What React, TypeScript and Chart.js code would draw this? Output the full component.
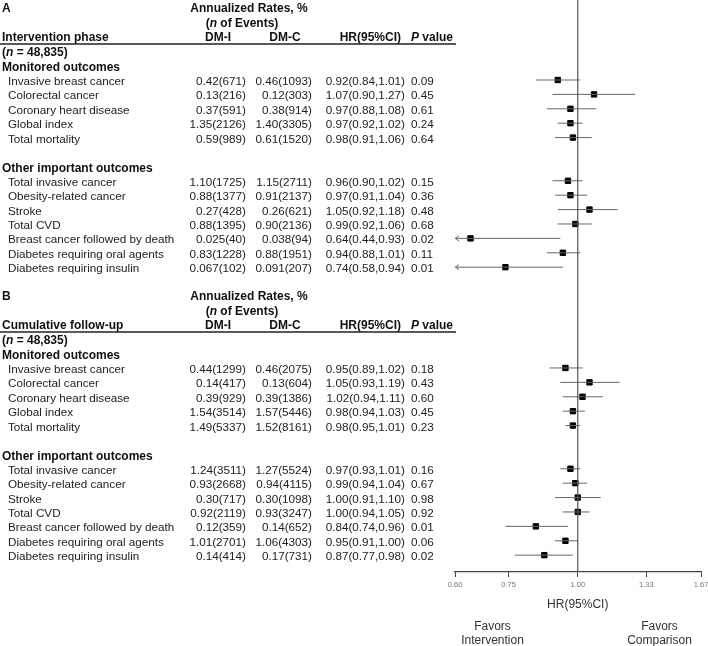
import React, { useEffect, useRef } from "react";
import { Chart, registerables } from "chart.js";

Chart.register(...registerables);

// ---------- data ----------
const outcomeLabels = [
  "Invasive breast cancer",
  "Colorectal cancer",
  "Coronary heart disease",
  "Global index",
  "Total mortality",
  "Total invasive cancer",
  "Obesity-related cancer",
  "Stroke",
  "Total CVD",
  "Breast cancer followed by death",
  "Diabetes requiring oral agents",
  "Diabetes requiring insulin",
];

// Panel A: intervention phase
const rateIA = ["0.42", "0.13", "0.37", "1.35", "0.59", "1.10", "0.88", "0.27", "0.88", "0.025", "0.83", "0.067"];
const eventsIA = [671, 216, 591, 2126, 989, 1725, 1377, 428, 1395, 40, 1228, 102];
const rateCA = ["0.46", "0.12", "0.38", "1.40", "0.61", "1.15", "0.91", "0.26", "0.90", "0.038", "0.88", "0.091"];
const eventsCA = [1093, 303, 914, 3305, 1520, 2711, 2137, 621, 2136, 94, 1951, 207];
const hrA = [0.92, 1.07, 0.97, 0.97, 0.98, 0.96, 0.97, 1.05, 0.99, 0.64, 0.94, 0.74];
const loA = [0.84, 0.9, 0.88, 0.92, 0.91, 0.9, 0.91, 0.92, 0.92, 0.44, 0.88, 0.58];
const hiA = [1.01, 1.27, 1.08, 1.02, 1.06, 1.02, 1.04, 1.18, 1.06, 0.93, 1.01, 0.94];
const pA = ["0.09", "0.45", "0.61", "0.24", "0.64", "0.15", "0.36", "0.48", "0.68", "0.02", "0.11", "0.01"];

// Panel B: cumulative follow-up
const rateIB = ["0.44", "0.14", "0.39", "1.54", "1.49", "1.24", "0.93", "0.30", "0.92", "0.12", "1.01", "0.14"];
const eventsIB = [1299, 417, 929, 3514, 5337, 3511, 2668, 717, 2119, 359, 2701, 414];
const rateCB = ["0.46", "0.13", "0.39", "1.57", "1.52", "1.27", "0.94", "0.30", "0.93", "0.14", "1.06", "0.17"];
const eventsCB = [2075, 604, 1386, 5446, 8161, 5524, 4115, 1098, 3247, 652, 4303, 731];
const hrB = [0.95, 1.05, 1.02, 0.98, 0.98, 0.97, 0.99, 1.0, 1.0, 0.84, 0.95, 0.87];
const loB = [0.89, 0.93, 0.94, 0.94, 0.95, 0.93, 0.94, 0.91, 0.94, 0.74, 0.91, 0.77];
const hiB = [1.02, 1.19, 1.11, 1.03, 1.01, 1.01, 1.04, 1.1, 1.05, 0.96, 1.0, 0.98];
const pB = ["0.18", "0.43", "0.60", "0.45", "0.23", "0.16", "0.67", "0.98", "0.92", "0.01", "0.06", "0.02"];

const xTickValues = [0.6, 0.75, 1.0, 1.33, 1.67];

// ---------- layout (row slots) ----------
const rowsA = [5, 6, 7, 8, 9, 12, 13, 14, 15, 16, 17, 18];
const PANEL_B_OFFSET = 20;
const rowsB = rowsA.map((r) => r + PANEL_B_OFFSET);
const Y_MIN = -0.555;
const Y_MAX = 39.17;
const X_MIN = 0.6;
const X_MAX = 1.67;

const FONT = '"Liberation Sans", Arial, sans-serif';
const fNorm = `11.7px ${FONT}`;
const fBold = `bold 12px ${FONT}`;
const fBoldIt = `italic bold 12px ${FONT}`;

type Part = [string, string];

function rich(ctx: CanvasRenderingContext2D, parts: Part[], x: number, y: number, align: "left" | "center" | "right") {
  let total = 0;
  for (const [t, f] of parts) {
    ctx.font = f;
    total += ctx.measureText(t).width;
  }
  let sx = align === "left" ? x : align === "center" ? x - total / 2 : x - total;
  ctx.textAlign = "left";
  for (const [t, f] of parts) {
    ctx.font = f;
    ctx.fillText(t, sx, y);
    sx += ctx.measureText(t).width;
  }
}

function ciData(lo: number[], hi: number[], rows: number[]) {
  const out: any[] = [];
  rows.forEach((r, i) => {
    out.push({ x: lo[i], y: r });
    out.push({ x: hi[i], y: r });
    out.push({ x: null, y: null });
  });
  return out;
}

const tablePlugin = {
  id: "forestTable",
  afterDraw(chart: any) {
    const ctx: CanvasRenderingContext2D = chart.ctx;
    const ys = chart.scales.y;
    const xs = chart.scales.x;
    const area = chart.chartArea;
    const base = (r: number) => ys.getPixelForValue(r) + 5;
    ctx.save();
    ctx.textBaseline = "alphabetic";

    // arrows for truncated CIs
    ctx.strokeStyle = "#666";
    ctx.lineWidth = 1;
    const arrows = (lo: number[], rows: number[]) => {
      rows.forEach((r, i) => {
        if (lo[i] < X_MIN) {
          const y = ys.getPixelForValue(r);
          const x = area.left;
          ctx.beginPath();
          ctx.moveTo(x + 4, y - 2.5);
          ctx.lineTo(x + 0.5, y);
          ctx.lineTo(x + 4, y + 2.5);
          ctx.stroke();
        }
      });
    };
    arrows(loA, rowsA);
    arrows(loB, rowsB);

    const panel = (
      off: number,
      letter: string,
      phase: string,
      rI: string[], eI: number[], rC: string[], eC: number[],
      hr: number[], lo: number[], hi: number[], p: string[], rows: number[]
    ) => {
      ctx.fillStyle = "#111";
      rich(ctx, [[letter, fBold]], 2, base(off - 0.05), "left");
      rich(ctx, [["Annualized Rates, %", fBold]], 249, base(off - 0.05), "center");
      rich(ctx, [["(", fBold], ["n", fBoldIt], [" of Events)", fBold]], 242, base(off + 0.95), "center");
      rich(ctx, [[phase, fBold]], 2, base(off + 1.93), "left");
      rich(ctx, [["DM-I", fBold]], 218, base(off + 1.93), "center");
      rich(ctx, [["DM-C", fBold]], 285, base(off + 1.93), "center");
      rich(ctx, [["HR(95%CI)", fBold]], 401, base(off + 1.93), "right");
      rich(ctx, [["P", fBoldIt], [" value", fBold]], 411, base(off + 1.93), "left");
      // underline
      ctx.strokeStyle = "#222";
      ctx.lineWidth = 1.4;
      ctx.beginPath();
      const uy = ys.getPixelForValue(off + 2.5);
      ctx.moveTo(0, uy);
      ctx.lineTo(456, uy);
      ctx.stroke();
      rich(ctx, [["(", fBold], ["n", fBoldIt], [" = 48,835)", fBold]], 2, base(off + 3.02), "left");
      rich(ctx, [["Monitored outcomes", fBold]], 2, base(off + 4.05), "left");
      rich(ctx, [["Other important outcomes", fBold]], 2, base(off + 11.05), "left");

      ctx.fillStyle = "#222";
      rows.forEach((r, i) => {
        const y = base(r);
        rich(ctx, [[outcomeLabels[i], fNorm]], 8, y, "left");
        rich(ctx, [[`${rI[i]}(${eI[i]})`, fNorm]], 246, y, "right");
        rich(ctx, [[`${rC[i]}(${eC[i]})`, fNorm]], 312, y, "right");
        rich(ctx, [[`${hr[i].toFixed(2)}(${lo[i].toFixed(2)},${hi[i].toFixed(2)})`, fNorm]], 405, y, "right");
        rich(ctx, [[p[i], fNorm]], 411, y, "left");
      });
    };

    panel(0, "A", "Intervention phase", rateIA, eventsIA, rateCA, eventsCA, hrA, loA, hiA, pA, rowsA);
    panel(PANEL_B_OFFSET, "B", "Cumulative follow-up", rateIB, eventsIB, rateCB, eventsCB, hrB, loB, hiB, pB, rowsB);

    // axis title and favors labels
    ctx.fillStyle = "#333";
    const cx = xs.getPixelForValue(1);
    rich(ctx, [["HR(95%CI)", `12px ${FONT}`]], cx, 607.5, "center");
    rich(ctx, [["Favors", `12px ${FONT}`]], 492.5, 630, "center");
    rich(ctx, [["Intervention", `12px ${FONT}`]], 492.5, 644, "center");
    rich(ctx, [["Favors", `12px ${FONT}`]], 659.5, 630, "center");
    rich(ctx, [["Comparison", `12px ${FONT}`]], 659.5, 644, "center");
    ctx.restore();
  },
};

function ForestChart() {
  const ref = useRef<HTMLCanvasElement | null>(null);
  useEffect(() => {
    if (!ref.current) return;
    const chart = new Chart(ref.current, {
      type: "scatter",
      data: {
        datasets: [
          {
            label: "ref",
            data: [
              { x: 1, y: Y_MIN },
              { x: 1, y: Y_MAX },
            ],
            showLine: true,
            borderColor: "#555",
            borderWidth: 1.2,
            pointRadius: 0,
          },
          {
            label: "CI A",
            data: ciData(loA, hiA, rowsA),
            showLine: true,
            spanGaps: false,
            borderColor: "#666",
            borderWidth: 1,
            pointRadius: 0,
          },
          {
            label: "CI B",
            data: ciData(loB, hiB, rowsB),
            showLine: true,
            spanGaps: false,
            borderColor: "#666",
            borderWidth: 1,
            pointRadius: 0,
          },
          {
            label: "HR A",
            data: hrA.map((v, i) => ({ x: v, y: rowsA[i] })),
            pointStyle: "rect",
            pointRadius: 3.8,
            pointBackgroundColor: "#000",
            pointBorderColor: "#000",
            pointBorderWidth: 1,
          },
          {
            label: "HR B",
            data: hrB.map((v, i) => ({ x: v, y: rowsB[i] })),
            pointStyle: "rect",
            pointRadius: 3.8,
            pointBackgroundColor: "#000",
            pointBorderColor: "#000",
            pointBorderWidth: 1,
          },
        ],
      } as any,
      options: {
        animation: false,
        responsive: true,
        maintainAspectRatio: false,
        devicePixelRatio: 1,
        layout: { autoPadding: false, padding: { left: 455, right: 7, top: 0, bottom: 0 } },
        plugins: { legend: { display: false }, tooltip: { enabled: false } },
        scales: {
          x: {
            type: "logarithmic",
            position: "bottom",
            min: X_MIN,
            max: X_MAX,
            afterBuildTicks: (scale: any) => {
              scale.ticks = xTickValues.map((v) => ({ value: v }));
            },
            afterFit: (scale: any) => {
              scale.height = 74;
              scale.paddingLeft = 0;
              scale.paddingRight = 0;
            },
            ticks: {
              autoSkip: false,
              maxRotation: 0,
              padding: 3,
              color: "#777",
              font: { size: 7.5, family: FONT },
              callback: (v: any) => Number(v).toFixed(2),
            },
            grid: {
              display: true,
              drawOnChartArea: false,
              drawTicks: true,
              tickLength: 5,
              color: "#444",
              lineWidth: 1,
            },
            border: { display: true, color: "#444", width: 1.2 },
          },
          y: {
            type: "linear",
            display: false,
            reverse: true,
            min: Y_MIN,
            max: Y_MAX,
          },
        },
      } as any,
      plugins: [tablePlugin],
    });
    return () => chart.destroy();
  }, []);
  return (
    <div style={{ position: "absolute", left: 0, top: 0, width: 708, height: 646, background: "#fff" }}>
      <canvas ref={ref} />
    </div>
  );
}

export default function App() {
  return <ForestChart />;
}
